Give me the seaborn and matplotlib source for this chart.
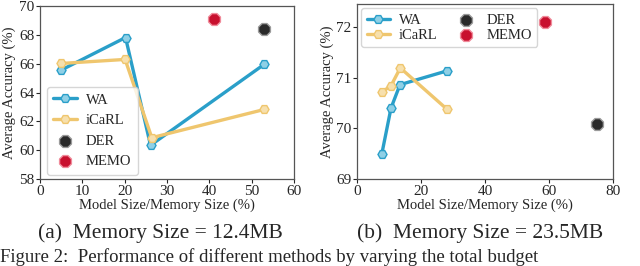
import matplotlib
matplotlib.use('Agg')
import matplotlib.pyplot as plt
import pandas as pd
import seaborn as sns

# ---- data ----
# (a) Memory Size = 12.4MB
a_wa_x = [5.0, 20.2, 26.1, 53.0]
a_wa_y = [65.56, 67.82, 60.34, 65.97]
a_icarl_x = [5.0, 20.1, 26.4, 53.0]
a_icarl_y = [66.02, 66.30, 60.87, 62.83]
a_der = (52.9, 68.40)
a_memo = (41.1, 69.08)

# (b) Memory Size = 23.5MB
b_wa_x = [7.7, 10.6, 13.4, 28.0]
b_wa_y = [69.49, 70.40, 70.86, 71.13]
b_icarl_x = [7.7, 10.6, 13.5, 28.0]
b_icarl_y = [70.71, 70.84, 71.19, 70.38]
b_der = (74.9, 70.09)
b_memo = (58.7, 72.09)

captions = ['(a)  Memory Size = 12.4MB', '(b)  Memory Size = 23.5MB']
fig_caption = 'Figure 2:  Performance of different methods by varying the total budget'

WA_C = '#2a9fc9'
WA_FACE = '#8fd0e6'
IC_C = '#efc66e'
IC_FACE = '#f7e0ad'
DER_C = '#2a2a2a'
MEMO_C = '#c8102e'

sns.set_style('white')
plt.rcParams['font.family'] = ['Liberation Serif', 'DejaVu Serif']

fig = plt.figure(figsize=(6.4, 2.66), dpi=100)
ax1 = fig.add_axes([0.0625, 0.327, 0.397, 0.650])
ax2 = fig.add_axes([0.558, 0.327, 0.400, 0.658])


def draw(ax, wa_x, wa_y, ic_x, ic_y, der, memo):
    wa = pd.DataFrame({'x': wa_x, 'y': wa_y})
    ic = pd.DataFrame({'x': ic_x, 'y': ic_y})
    sns.lineplot(data=wa, x='x', y='y', ax=ax, color=WA_C, lw=2.4,
                 marker='H', markersize=6.5, markerfacecolor=WA_FACE,
                 markeredgecolor=WA_C, markeredgewidth=1.0, label='WA',
                 sort=False)
    sns.lineplot(data=ic, x='x', y='y', ax=ax, color=IC_C, lw=2.4,
                 marker='H', markersize=6.5, markerfacecolor=IC_FACE,
                 markeredgecolor=IC_C, markeredgewidth=1.0, label='iCaRL',
                 sort=False)
    sns.scatterplot(x=[der[0]], y=[der[1]], ax=ax, color=DER_C, s=85,
                    marker='8', edgecolor='#9a9a9a', linewidth=1.0,
                    label='DER', zorder=4)
    sns.scatterplot(x=[memo[0]], y=[memo[1]], ax=ax, color=MEMO_C, s=85,
                    marker='8', edgecolor='#f08a9a', linewidth=1.0,
                    label='MEMO', zorder=4)
    ax.set_xlabel('Model Size/Memory Size (%)', fontsize=10.5, labelpad=1)
    ax.set_ylabel('Average Accuracy (%)', fontsize=10.5, labelpad=2)
    ax.tick_params(axis='both', labelsize=11, length=3, width=0.8,
                   direction='out', pad=1, left=True, bottom=True)
    for s in ax.spines.values():
        s.set_color('#555555')
        s.set_linewidth(0.9)


draw(ax1, a_wa_x, a_wa_y, a_icarl_x, a_icarl_y, a_der, a_memo)
ax1.set_xlim(0, 60)
ax1.set_ylim(58, 70)
ax1.set_xticks(range(0, 61, 10))
ax1.set_yticks(range(58, 71, 2))
ax1.legend(loc='lower left', fontsize=10.5, frameon=True, borderpad=0.45,
           handlelength=1.6, labelspacing=0.5, handletextpad=0.6,
           borderaxespad=0.3, bbox_to_anchor=(0.01, 0.0))

draw(ax2, b_wa_x, b_wa_y, b_icarl_x, b_icarl_y, b_der, b_memo)
ax2.set_xlim(0, 80)
ax2.set_ylim(69, 72.45)
ax2.set_xticks(range(0, 81, 20))
ax2.set_yticks([69, 70, 71, 72])
ax2.legend(loc='upper left', ncol=2, fontsize=10.5, frameon=True,
           borderpad=0.35, handlelength=1.6, labelspacing=0.15,
           handletextpad=0.6, columnspacing=1.2,
           borderaxespad=0.3, bbox_to_anchor=(0.0, 1.0))

fig.text(0.25, 0.125, captions[0], ha='center', va='center', fontsize=15.5)
fig.text(0.75, 0.125, captions[1], ha='center', va='center', fontsize=15.5)
fig.text(0.0, 0.0, fig_caption, ha='left', va='bottom', fontsize=13.5)

fig.savefig('out.png', dpi=100)
